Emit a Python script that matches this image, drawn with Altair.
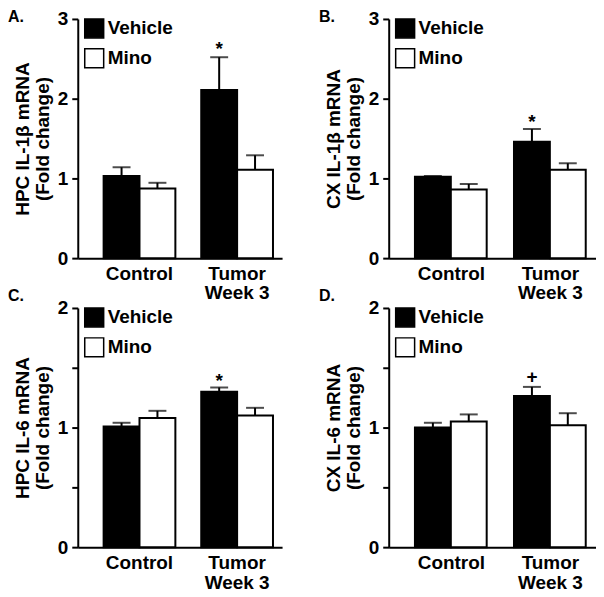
import altair as alt
import pandas as pd

# ---- data ----
categories = ["Control", "Tumor|Week 3"]
groups = ["Vehicle", "Mino"]

A_mean = [1.03, 0.875, 2.11, 1.11]
A_err = [0.11, 0.07, 0.41, 0.18]
B_mean = [1.02, 0.86, 1.46, 1.11]
B_err = [0.01, 0.07, 0.16, 0.08]
C_mean = [1.01, 1.08, 1.30, 1.10]
C_err = [0.03, 0.06, 0.035, 0.065]
D_mean = [1.00, 1.05, 1.265, 1.02]
D_err = [0.04, 0.06, 0.075, 0.10]

A_sig = ["", "", "*", ""]
B_sig = ["", "", "*", ""]
C_sig = ["", "", "*", ""]
D_sig = ["", "", "+", ""]

titles = {
    "A": ["HPC IL-1β mRNA", "(Fold change)"],
    "B": ["CX IL-1β mRNA", "(Fold change)"],
    "C": ["HPC IL-6 mRNA", "(Fold change)"],
    "D": ["CX IL-6 mRNA", "(Fold change)"],
}

FONT = "Liberation Sans"
FS = 19


def make_df(mean, err, sig):
    rows = []
    i = 0
    for c in categories:
        for g in groups:
            rows.append({"cat": c, "grp": g, "mean": mean[i],
                         "upper": mean[i] + err[i], "sig": sig[i]})
            i += 1
    return pd.DataFrame(rows)


def panel(letter, mean, err, sig, ymax, ticks, width, letter_y, sig_dy):
    df = make_df(mean, err, sig)
    xscale = alt.Scale(domain=categories, paddingInner=0.265,
                       paddingOuter=0.179, align=0.74)
    x = alt.X("cat:N", scale=xscale, sort=categories,
              axis=alt.Axis(title=None, labelAngle=0, ticks=False,
                            labelExpr="split(datum.label, '|')",
                            labelFontSize=FS, labelFontWeight="bold",
                            labelPadding=6,
                            labelLineHeight=20, domainColor="black",
                            domainWidth=2, labelColor="black"))
    xo = alt.XOffset("grp:N", sort=groups,
                     scale=alt.Scale(paddingInner=0, paddingOuter=0))
    yscale = alt.Scale(domain=[0, ymax], nice=False)
    yaxis = alt.Axis(values=ticks, title=titles[letter],
                     labelExpr="datum.value % 1 == 0 ? format(datum.value, 'd') : ''",
                     labelFontSize=FS, labelFontWeight="bold",
                     labelPadding=4, tickSize=6,
                     tickWidth=2, tickColor="black", domainColor="black",
                     domainWidth=2, grid=False, titleFontSize=FS,
                     titleFontWeight="bold", titlePadding=5,
                     titleColor="black", labelColor="black",
                     titleLineHeight=20)
    base = alt.Chart(df)
    bars = base.mark_bar(stroke="black", strokeWidth=2).encode(
        x=x, xOffset=xo,
        y=alt.Y("mean:Q", scale=yscale, axis=yaxis),
        fill=alt.Fill("grp:N", sort=groups,
                      scale=alt.Scale(domain=groups, range=["black", "white"]),
                      legend=alt.Legend(orient="none", legendX=6, legendY=-1,
                                        title=None, symbolType="square",
                                        symbolSize=361,
                                        symbolStrokeColor="black",
                                        symbolStrokeWidth=1.5,
                                        labelFontSize=FS,
                                        labelFontWeight="bold",
                                        labelOffset=3,
                                        rowPadding=5, padding=0,
                                        labelColor="black")),
    )
    rule = base.mark_rule(color="black", strokeWidth=2).encode(
        x=x, xOffset=xo, y=alt.Y("mean:Q", scale=yscale), y2="upper:Q")
    cap = base.mark_tick(color="black", thickness=2, size=18).encode(
        x=x, xOffset=xo, y=alt.Y("upper:Q", scale=yscale))
    sigt = base.mark_text(fontSize=FS, fontWeight="bold",
                          baseline="alphabetic", dy=sig_dy,
                          color="black").encode(
        x=x, xOffset=xo, y=alt.Y("upper:Q", scale=yscale), text="sig:N")
    lab = alt.Chart(pd.DataFrame({"t": [letter + "."]})).mark_text(
        fontSize=16, fontWeight="bold", align="left", baseline="alphabetic",
        color="black"
    ).encode(x=alt.value(-70), y=alt.value(letter_y), text="t:N")
    return alt.layer(rule, cap, bars, sigt, lab).properties(
        width=width, height=240)


pA = panel("A", A_mean, A_err, A_sig, 3, [0, 1, 2, 3], 205, 3, -2)
pB = panel("B", B_mean, B_err, B_sig, 3, [0, 1, 2, 3], 208, 3, -1)
pC = panel("C", C_mean, C_err, C_sig, 2, [0, 0.5, 1, 1.5, 2], 205, -7, -1)
pD = panel("D", D_mean, D_err, D_sig, 2, [0, 0.5, 1, 1.5, 2], 208, -7, -4)

chart = alt.concat(pA, pB, pC, pD, columns=2,
                   spacing={"row": 50, "column": 107},
                   bounds="flush").resolve_legend(
    fill="independent").properties(padding=0).configure(
    font=FONT).configure_view(strokeWidth=0)

chart.save("out.html", embed_options={"renderer": "svg", "actions": False})
